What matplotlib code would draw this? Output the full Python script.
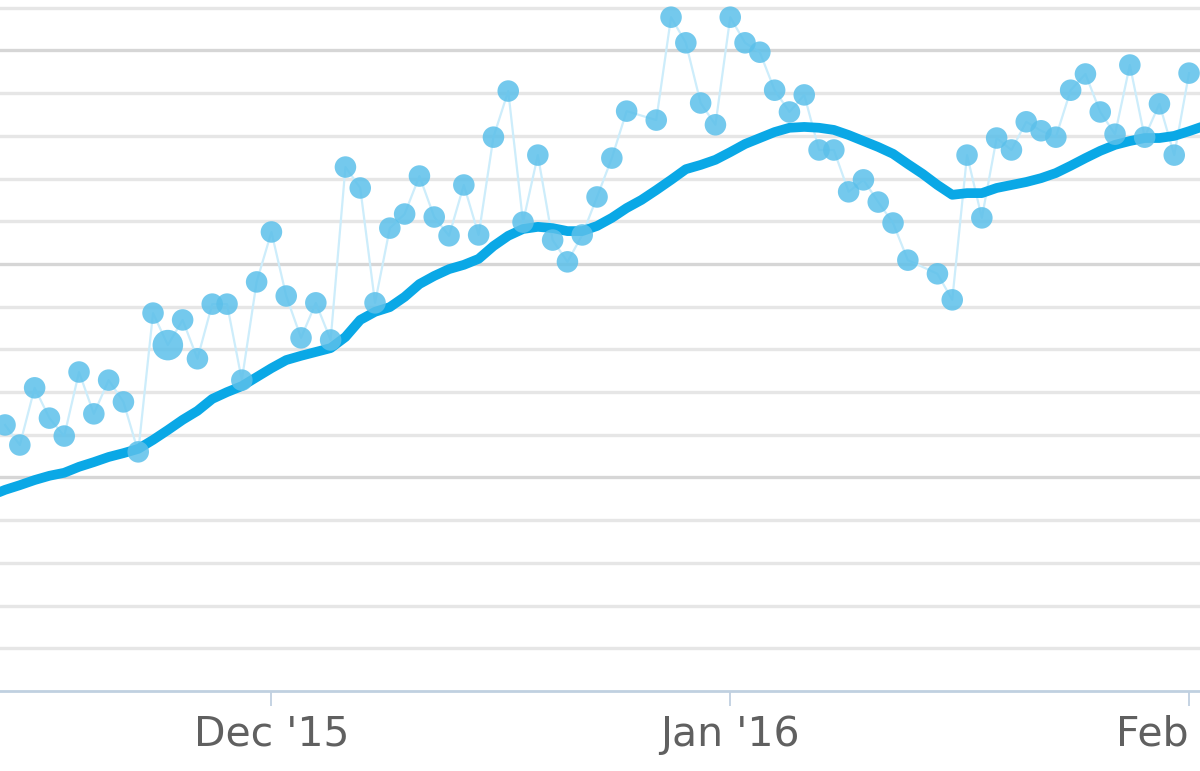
import numpy as np
import pandas as pd
import matplotlib
matplotlib.use('Agg')
import matplotlib.pyplot as plt
import matplotlib.dates as mdates

# daily values, one per day from 2015-11-13 (nan = no reading that day)
nan = np.nan
daily_values = [
    6.23, 5.76, 7.10, 6.39, 5.97, 7.47, 6.49, 7.28, 6.77, 5.60,
    8.85, 8.10, 8.69, 7.78, 9.06, 9.06, 7.28, 9.58, 10.75, 9.25,
    8.27, 9.09, 8.22, 12.27, 11.78, 9.09, 10.84, 11.17, 12.06, 11.10,
    10.66, 11.85, 10.68, 12.97, 14.05, 10.98, 12.55, 10.56, 10.05, 10.68,
    11.57, 12.48, 13.58, nan, 13.37, 15.78, 15.18, 13.77, 13.26, 15.78,
    15.18, 14.96, 14.07, 13.56, 13.96, 12.67, 12.67, 11.69, 11.97, 11.45,
    10.96, 10.09, nan, 9.77, 9.16, 12.55, 11.08, 12.95, 12.67, 13.33,
    13.12, 12.97, 14.07, 14.45, 13.56, 13.04, 14.66, 12.97, 13.75, 12.55,
    14.47,
]
highlight_day = 11

# moving average, one per day from 2015-11-12
ma_values = [
    4.57, 4.71, 4.82, 4.94, 5.04, 5.11, 5.25, 5.36, 5.48, 5.57,
    5.67, 5.88, 6.11, 6.35, 6.56, 6.84, 7.00, 7.14, 7.35, 7.56,
    7.75, 7.85, 7.94, 8.03, 8.29, 8.69, 8.88, 8.99, 9.23, 9.53,
    9.72, 9.88, 9.98, 10.12, 10.42, 10.66, 10.82, 10.87, 10.84, 10.77,
    10.77, 10.89, 11.08, 11.31, 11.50, 11.73, 11.97, 12.22, 12.32, 12.44,
    12.62, 12.81, 12.95, 13.09, 13.19, 13.21, 13.19, 13.14, 13.02, 12.88,
    12.74, 12.58, 12.34, 12.11, 11.85, 11.62, 11.66, 11.66, 11.78, 11.85,
    11.92, 12.01, 12.13, 12.30, 12.48, 12.65, 12.79, 12.88, 12.95, 12.95,
    13.00, 13.11, 13.23,
]

tick_dates = ['2015-12-01', '2016-01-01', '2016-02-01']
tick_labels = ["Dec '15", "Jan '16", "Feb"]

daily = pd.Series(daily_values,
                  index=pd.date_range('2015-11-13', periods=len(daily_values), freq='D'))
ma = pd.Series(ma_values,
               index=pd.date_range('2015-11-12', periods=len(ma_values), freq='D'))
pts = daily.dropna()

fig = plt.figure(figsize=(12, 7.71), dpi=100)
ax = fig.add_axes([0, 0.1038, 1, 0.8962])

# grid: minor lines every unit, darker every 5
for y in range(1, 17):
    col = '#d6d6d6' if y % 5 == 0 else '#e6e6e6'
    ax.axhline(y, color=col, lw=2.4, zorder=0)

ax.plot(pts.index, pts.values, color='#cdedfb', lw=1.6, zorder=1)
ax.plot(ma.index, ma.values, color='#0aa8e6', lw=7, solid_capstyle='round',
        solid_joinstyle='round', zorder=2)
sizes = np.where(np.arange(len(daily)) == highlight_day, 22, 15.5)
sizes = pd.Series(sizes, index=daily.index)[pts.index]
ax.scatter(pts.index, pts.values, s=sizes.values ** 2, color='#5cc0ea',
           alpha=0.85, edgecolors='none', zorder=3)

start = pd.Timestamp('2015-11-13')
ax.set_xlim(start - pd.Timedelta(days=0.34), start + pd.Timedelta(days=80.74))
ax.set_ylim(0, 691 / 42.7)

ax.set_xticks([mdates.date2num(pd.Timestamp(d)) for d in tick_dates])
ax.set_xticklabels(tick_labels)
ax.tick_params(axis='x', length=11, width=1.3, color='#c0d0e0',
               labelsize=29.5, labelcolor='#606060', pad=6)
# last label would run off the right edge, keep it inside like the original
ax.get_xticklabels()[-1].set_horizontalalignment('right')
ax.set_yticks([])

for s in ['top', 'left', 'right']:
    ax.spines[s].set_visible(False)
ax.spines['bottom'].set_color('#c0d0e0')
ax.spines['bottom'].set_linewidth(2)

fig.savefig('out.png', dpi=100)
